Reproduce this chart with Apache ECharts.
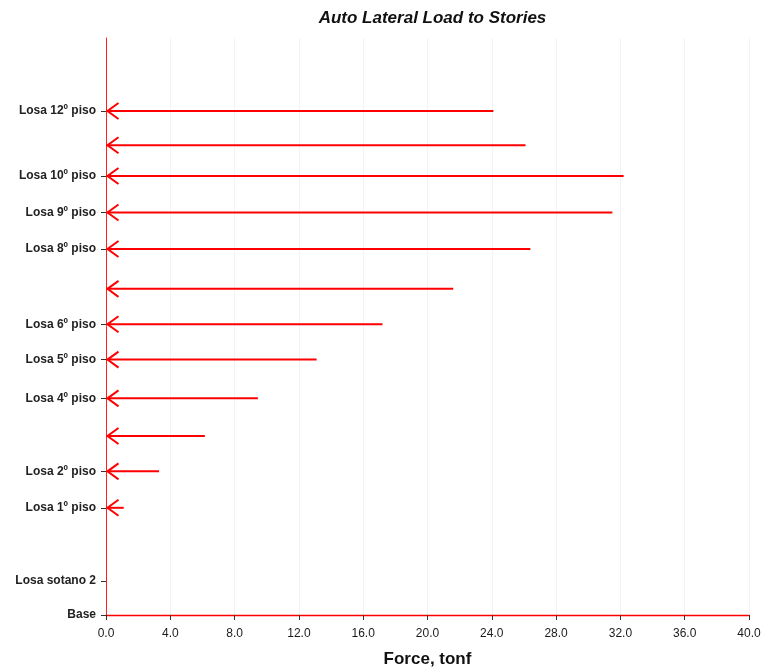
<!DOCTYPE html>
<html><head><meta charset="utf-8">
<script src="https://cdn.jsdelivr.net/npm/echarts@6/dist/echarts.min.js"></script>
<style>html,body{margin:0;padding:0;background:#fff}#c{width:763px;height:668px}</style>
</head><body><div id="c"></div>
<script>
// Story names and elevations (approx. metres)
const storyNames = ['Base','Losa sotano 2','Losa 1º piso','Losa 2º piso','Losa 3º piso','Losa 4º piso','Losa 5º piso','Losa 6º piso','Losa 7º piso','Losa 8º piso','Losa 9º piso','Losa 10º piso','Losa 11º piso','Losa 12º piso'];
const storyElev  = [0, 3.0, 9.4, 12.6, 15.7, 19.0, 22.4, 25.5, 28.6, 32.1, 35.3, 38.5, 41.2, 44.2];
const labelShown = [true, true, true, true, false, true, true, true, false, true, true, true, false, true];
// Lateral forces (tonf); null = no load
const forces = [null, null, 1.1, 3.3, 6.15, 9.45, 13.1, 17.2, 21.6, 26.4, 31.5, 32.2, 26.1, 24.1];
const xTicks = [0, 4, 8, 12, 16, 20, 24, 28, 32, 36, 40];

const labeledVals = storyElev.filter((v, i) => labelShown[i]);
const arrowData = [];
forces.forEach((f, i) => { if (f !== null) arrowData.push([f, storyElev[i]]); });

const chart = echarts.init(document.getElementById('c'));
chart.setOption({
  animation: false,
  title: {
    text: 'Auto Lateral Load to Stories',
    left: 427.5, top: 5, textAlign: 'center',
    textStyle: { fontFamily: 'Liberation Sans, Arial', fontStyle: 'italic', fontWeight: 'bold', fontSize: 17, color: '#111' }
  },
  grid: { left: 106, right: 14, top: 38, bottom: 53, containLabel: false, outerBoundsMode: 'none' },
  xAxis: {
    type: 'value', min: 0, max: 40, interval: 4,
    name: 'Force, tonf', nameLocation: 'middle', nameGap: 36,
    nameTextStyle: { fontFamily: 'Liberation Sans, Arial', fontWeight: 'bold', fontSize: 17, color: '#111' },
    axisLine: { show: true, onZero: false, lineStyle: { color: '#ff0000', width: 1.3 } },
    axisTick: { show: true, length: 5, inside: false, lineStyle: { color: '#333' } },
    axisLabel: { fontFamily: 'Liberation Sans, Arial', fontSize: 12, color: '#1a1a1a', margin: 13, formatter: v => v.toFixed(1) },
    splitLine: { show: true, lineStyle: { color: '#f3f3f3' } }
  },
  yAxis: {
    type: 'value', min: 0, max: 50.6,
    axisLine: { show: true, onZero: false, lineStyle: { color: '#ff2020', width: 1 } },
    axisTick: { show: true, length: 5, customValues: labeledVals, lineStyle: { color: '#333' } },
    axisLabel: {
      customValues: labeledVals, margin: 10,
      fontFamily: 'Liberation Sans, Arial', fontSize: 12, fontWeight: 'bold', color: '#222',
      formatter: v => { const i = storyElev.indexOf(v); return i >= 0 ? storyNames[i] : ''; }
    },
    splitLine: { show: false }
  },
  series: [{
    type: 'custom',
    data: arrowData,
    encode: { x: 0, y: 1 },
    renderItem: function (params, api) {
      const end = api.coord([api.value(0), api.value(1)]);
      const tip = api.coord([0, api.value(1)]);
      const tx = tip[0] + 1.5, ty = tip[1];
      const style = { stroke: '#ff0000', lineWidth: 2, fill: null };
      return {
        type: 'group',
        children: [
          { type: 'polyline', shape: { points: [[tx, ty], [end[0], ty]] }, style: style },
          { type: 'polyline', shape: { points: [[tx + 11, ty - 8], [tx, ty], [tx + 11, ty + 8]] }, style: style }
        ]
      };
    }
  }]
});
</script></body></html>
